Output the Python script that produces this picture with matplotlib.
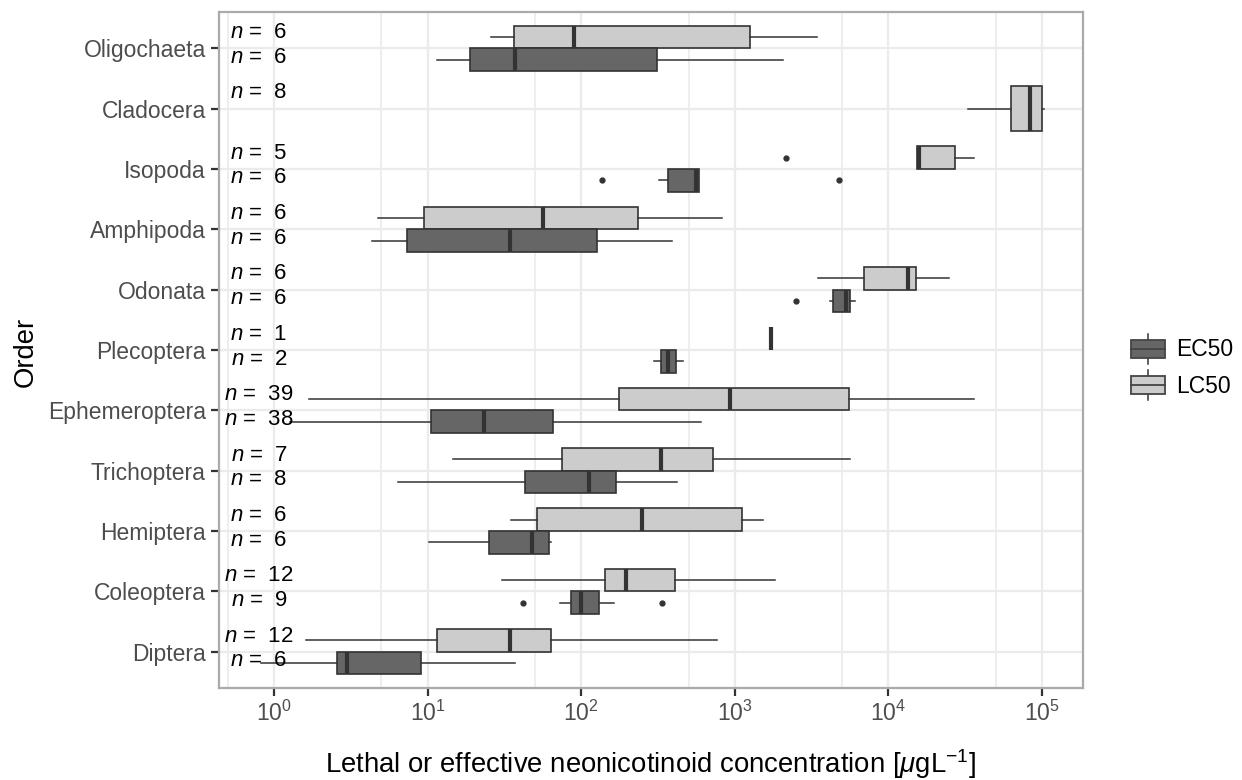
import numpy as np
import matplotlib
matplotlib.use("Agg")
import matplotlib.pyplot as plt
from matplotlib.patches import Rectangle
from matplotlib.lines import Line2D
from matplotlib.legend_handler import HandlerBase
from matplotlib.ticker import FixedLocator

plt.rcParams['font.family'] = ['Liberation Sans', 'DejaVu Sans']
plt.rcParams['mathtext.fontset'] = 'custom'
plt.rcParams['mathtext.rm'] = 'Liberation Sans'
plt.rcParams['mathtext.it'] = 'Liberation Sans:italic'
plt.rcParams['mathtext.bf'] = 'Liberation Sans:bold'

# data, top to bottom
orders = ["Oligochaeta", "Cladocera", "Isopoda", "Amphipoda", "Odonata", "Plecoptera",
          "Ephemeroptera", "Trichoptera", "Hemiptera", "Coleoptera", "Diptera"]

lc50_n = [6, 8, 5, 6, 6, 1, 39, 7, 6, 12, 12]
ec50_n = [6, 0, 6, 6, 6, 2, 38, 8, 6, 9, 6]

# whisker low, q1, median, q3, whisker high
lc50_lo  = [26,   32800,  15300, 4.73, 3480,  1722, 1.69, 14.6, 34.9, 30.6, 1.62]
lc50_q1  = [36.7, 62800,  15300, 9.5,  6930,  1722, 175,  75.4, 51.3, 142,  11.6]
lc50_med = [90,   83500,  15900, 56,   13330, 1722, 926,  329,  250,  197,  34.2]
lc50_q3  = [1262, 100400, 27300, 233,  15130, 1722, 5540, 718,  1109, 410,  63.3]
lc50_hi  = [3445, 103000, 36100, 826,  24640, 1722, 36100, 5620, 1519, 1820, 762]
lc50_out = [[], [], [2140], [], [], [], [], [], [], [], []]

ec50_lo  = [11.6, None, 321, 4.37, 4170, 298, 1.28, 6.45, 10.2, 73.1, 0.82]
ec50_q1  = [18.9, None, 367, 7.38, 4380, 331, 10.5, 42.9, 25.1, 85.5, 2.58]
ec50_med = [36.9, None, 556, 34.6, 5270, 369, 23.3, 113,  47.6, 100,  3.0]
ec50_q3  = [310,  None, 587, 126,  5600, 412, 65.2, 168,  61.7, 130,  9.06]
ec50_hi  = [2070, None, 587, 392,  6070, 458, 605,  423,  63.6, 164,  37.2]
ec50_out = [[], [], [136, 4790], [], [2500], [], [], [], [], [41.6, 337], []]

lc_col = "#CCCCCC"
ec_col = "#666666"
edge = "#333333"

fig = plt.figure(figsize=(12.42, 7.80), dpi=100)
ax = fig.add_axes([219/1242, 1-688/780, (1083-219)/1242, (688-12)/780])

ypos = np.arange(len(orders))[::-1] + 1
dodge = 0.1875

def make_stats(lo, q1, med, q3, hi, out):
    return dict(whislo=lo, q1=q1, med=med, q3=q3, whishi=hi, fliers=out)

lc_stats, lc_pos, lc_w = [], [], []
ec_stats, ec_pos, ec_w = [], [], []
for i, y in enumerate(ypos):
    single = ec50_n[i] == 0
    lc_stats.append(make_stats(lc50_lo[i], lc50_q1[i], lc50_med[i], lc50_q3[i], lc50_hi[i], lc50_out[i]))
    lc_pos.append(y if single else y + dodge)
    lc_w.append(0.75 if single else 0.375)
    if not single:
        ec_stats.append(make_stats(ec50_lo[i], ec50_q1[i], ec50_med[i], ec50_q3[i], ec50_hi[i], ec50_out[i]))
        ec_pos.append(y - dodge)
        ec_w.append(0.375)

for stats, pos, w, col in [(lc_stats, lc_pos, lc_w, lc_col), (ec_stats, ec_pos, ec_w, ec_col)]:
    ax.bxp(stats, positions=pos, widths=w, orientation='horizontal', showcaps=False,
           patch_artist=True, manage_ticks=False,
           boxprops=dict(facecolor=col, edgecolor=edge, linewidth=1.2),
           whiskerprops=dict(color=edge, linewidth=1.1),
           medianprops=dict(color=edge, linewidth=3.0, solid_capstyle='butt'),
           flierprops=dict(marker='o', markersize=3.5, markerfacecolor=edge,
                           markeredgecolor=edge, linestyle='none'),
           zorder=3)

# n labels
for i, y in enumerate(ypos):
    ax.text(0.8, y + 0.26, r"$n$ =  %d" % lc50_n[i], ha='center', va='center',
            fontsize=16, color='black', zorder=4)
    if ec50_n[i] > 0:
        ax.text(0.8, y - 0.15, r"$n$ =  %d" % ec50_n[i], ha='center', va='center',
                fontsize=16, color='black', zorder=4)

ax.set_xscale('log')
ax.set_xlim(10**-0.358, 10**5.267)
ax.set_ylim(0.4, len(orders) + 0.6)
ax.set_yticks(ypos)
ax.set_yticklabels(orders)
ax.xaxis.set_major_locator(FixedLocator([1, 10, 100, 1000, 1e4, 1e5]))
ax.xaxis.set_minor_locator(FixedLocator([0.5, 5, 50, 500, 5000, 50000]))
ax.tick_params(axis='x', which='minor', length=0)
ax.tick_params(axis='both', which='major', length=5.5, width=1.6, color=edge,
               labelsize=16.5, labelcolor='#4D4D4D', pad=4)

ax.grid(True, which='major', color='#EBEBEB', linewidth=1.6, zorder=0)
ax.grid(True, which='minor', axis='x', color='#EBEBEB', linewidth=1.2, zorder=0)
ax.set_axisbelow(True)
for s in ax.spines.values():
    s.set_color('#AAAAAA')
    s.set_linewidth(1.6)

ax.set_xlabel(r"Lethal or effective neonicotinoid concentration [$\mu$gL$^{-1}$]",
              fontsize=19.8, color='black')
ax.xaxis.set_label_coords(0.5, -0.087)
ax.set_ylabel("Order", fontsize=19.8, color='black')
ax.yaxis.set_label_coords(-0.209, 0.497)


class BoxKey(HandlerBase):
    def create_artists(self, legend, orig_handle, xdescent, ydescent, width, height,
                       fontsize, trans):
        fc = orig_handle.get_facecolor()
        x0, y0 = -xdescent, -ydescent
        cx = x0 + width / 2
        bh = height * 0.62
        by = y0 + (height - bh) / 2
        arts = [
            Line2D([cx, cx], [y0, by], color=edge, lw=1.1),
            Line2D([cx, cx], [by + bh, y0 + height], color=edge, lw=1.1),
            Rectangle((x0, by), width, bh, facecolor=fc, edgecolor='#444444', lw=1.3),
            Line2D([x0, x0 + width], [by + bh / 2] * 2, color='#444444', lw=1.3),
        ]
        for a in arts:
            a.set_transform(trans)
        return arts


handles = [Rectangle((0, 0), 1, 1, facecolor=ec_col), Rectangle((0, 0), 1, 1, facecolor=lc_col)]
fig.legend(handles, ["EC50", "LC50"], handler_map={Rectangle: BoxKey()},
           loc='center left', bbox_to_anchor=(1131/1242, 1 - 367/780), frameon=False,
           borderpad=0, fontsize=16.5, handlelength=1.5, handleheight=1.6,
           labelspacing=0.3, handletextpad=0.45, borderaxespad=0)

fig.savefig("out.png", dpi=100)
